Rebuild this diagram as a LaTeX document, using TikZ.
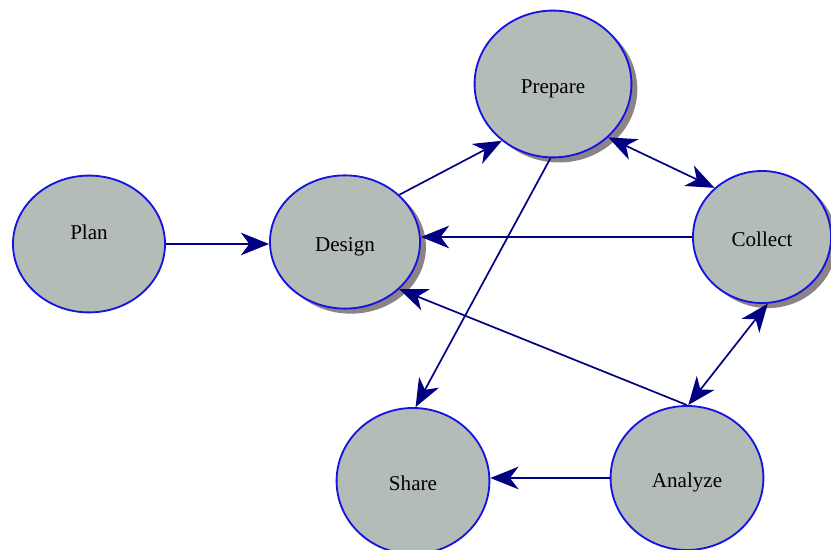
\documentclass[tikz,border=0pt]{standalone}
\usepackage{fontspec}
\setmainfont{Liberation Serif}
\usetikzlibrary{shapes.geometric,arrows.meta,shadows}
\definecolor{stepfill}{RGB}{180,188,184}
\definecolor{stepline}{RGB}{20,20,225}
\definecolor{stepshade}{RGB}{140,130,135}
\definecolor{flowline}{RGB}{0,0,128}
\begin{document}
\begin{tikzpicture}[x=0.025cm, y=-0.025cm, >={Stealth[length=20pt, width=16pt, inset=6pt]},
		stepnode/.style={ellipse, draw=stepline, fill=stepfill, line width=1.3pt, inner sep=0pt, text height=13.2pt, text depth=0pt, font=\fontsize{15}{18}\selectfont},
		shadowed/.style={drop shadow={shadow xshift=4.2pt, shadow yshift=-3.6pt, fill=stepshade, opacity=1}},
		flow/.style={draw=flowline, line width=1.2pt, ->},
		flowboth/.style={flow, <->}]
		\useasboundingbox (0,0) rectangle (831,550);
		\node[stepnode, text height=0pt, text depth=7pt, minimum width=3.8cm, minimum height=3.42cm] (plan) at (89,244) {Plan};
		\node[stepnode, shadowed, minimum width=3.75cm, minimum height=3.33cm] (design) at (345,242) {Design};
		\node[stepnode, shadowed, minimum width=3.92cm, minimum height=3.67cm] (prepare) at (553,84) {Prepare};
		\node[stepnode, shadowed, minimum width=3.45cm, minimum height=3.3cm] (collect) at (762,237) {Collect};
		\node[stepnode, minimum width=3.82cm, minimum height=3.65cm] (share) at (413,481) {Share};
		\node[stepnode, minimum width=3.82cm, minimum height=3.6cm] (analyze) at (687,478) {Analyze};
		\draw[flow, line width=1.6pt] (plan.east) -- (plan.east -| design.west);
		\draw[flow] (design.41) -- (prepare.228);
		\draw[flow] (prepare.268) -- (share.88);
		\draw[flowboth] (prepare.316) -- (collect.134);
		\draw[flow, line width=1.6pt] (collect.west) -- (collect.west -| design.east);
		\draw[flow] (analyze.90) -- (design.319);
		\draw[flowboth] (collect.275) -- (analyze.89);
		\draw[flow, line width=1.6pt] (analyze.west) -- (analyze.west -| share.east);
	\end{tikzpicture}
\end{document}
